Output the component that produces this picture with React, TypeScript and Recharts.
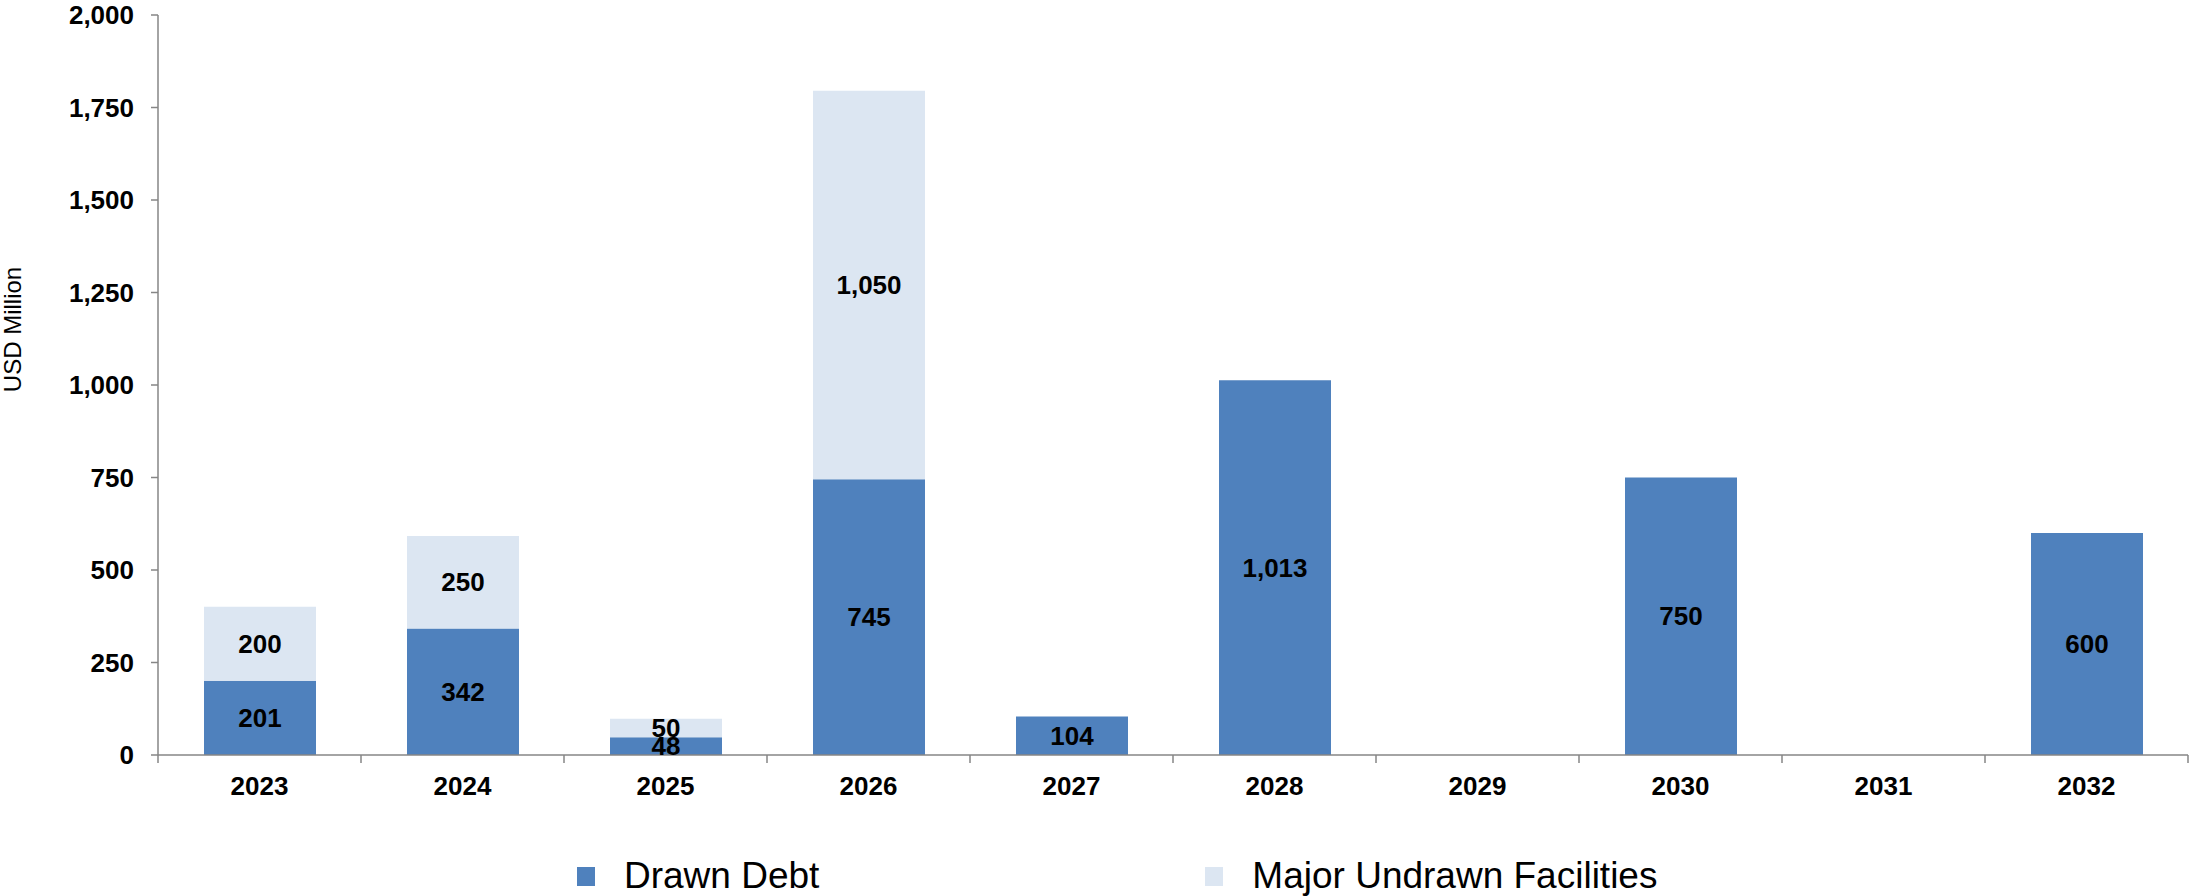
import React from 'react';
import { BarChart, Bar, XAxis, YAxis, Legend, LabelList } from 'recharts';

const years = ['2023', '2024', '2025', '2026', '2027', '2028', '2029', '2030', '2031', '2032'];
const drawnDebt = [201, 342, 48, 745, 104, 1013, 0, 750, 0, 600];
const undrawnFacilities = [200, 250, 50, 1050, 0, 0, 0, 0, 0, 0];
const yTicks = [0, 250, 500, 750, 1000, 1250, 1500, 1750, 2000];

const DRAWN = '#4F81BD';
const UNDRAWN = '#DCE6F2';
const AXIS = '#868686';
const FONT = '"Liberation Sans", Arial, sans-serif';

const data = years.map((year, i) => ({
  year,
  drawn: drawnDebt[i],
  undrawn: undrawnFacilities[i],
}));

const fmt = (v: any) => (v ? Number(v).toLocaleString('en-US') : '');

// category ticks sit between the bars, labels in the middle
function XTick(props: any) {
  const { x, y, payload, index } = props;
  const off = payload && payload.offset ? payload.offset : 101.5;
  return (
    <g>
      <line x1={x - off} y1={y} x2={x - off} y2={y + 8} stroke={AXIS} strokeWidth={1.5} />
      {index === years.length - 1 && (
        <line x1={x + off} y1={y} x2={x + off} y2={y + 8} stroke={AXIS} strokeWidth={1.5} />
      )}
      <text x={x} y={y + 40} textAnchor="middle" fontSize={26} fontWeight="bold" fill="#000" fontFamily={FONT}>
        {payload.value}
      </text>
    </g>
  );
}

function LegendContent() {
  const items = [
    { name: 'Drawn Debt', color: DRAWN },
    { name: 'Major Undrawn Facilities', color: UNDRAWN },
  ];
  return (
    <div style={{ height: 40, display: 'flex', alignItems: 'center', paddingLeft: 577, fontFamily: FONT }}>
      {items.map((it, i) => (
        <div key={it.name} style={{ display: 'flex', alignItems: 'center', marginRight: i === 0 ? 386 : 0 }}>
          <span style={{ width: 18, height: 19, background: it.color, display: 'inline-block', marginRight: 29 }} />
          <span style={{ fontSize: 37, color: '#000', lineHeight: '40px' }}>{it.name}</span>
        </div>
      ))}
    </div>
  );
}

export default function App() {
  return (
    <div style={{ position: 'absolute', left: 0, top: 0, background: '#fff', fontFamily: FONT }}>
      <BarChart
        width={2189}
        height={896}
        data={data}
        margin={{ top: 15, right: 1, left: 0, bottom: 0 }}
        barSize={112}
      >
        <XAxis
          dataKey="year"
          height={101}
          tickSize={0}
          tickMargin={0}
          tickLine={false}
          axisLine={{ stroke: AXIS, strokeWidth: 1.5 }}
          tick={<XTick />}
          interval={0}
        />
        <YAxis
          width={158}
          domain={[0, 2000]}
          ticks={yTicks}
          interval={0}
          tickSize={7}
          tickMargin={17}
          tickFormatter={(v: number) => v.toLocaleString('en-US')}
          tick={{ fontSize: 26, fontWeight: 'bold', fill: '#000', fontFamily: FONT }}
          tickLine={{ stroke: AXIS, strokeWidth: 1.5 }}
          axisLine={{ stroke: AXIS, strokeWidth: 1.5 }}
          label={{
            content: (p: any) => {
              const vb = p.viewBox || { x: 0, y: 15, height: 740 };
              const cx = vb.x + 21;
              const cy = vb.y + vb.height * 0.425;
              return (
                <text
                  x={cx}
                  y={cy}
                  transform={`rotate(-90, ${cx}, ${cy})`}
                  textAnchor="middle"
                  fontSize={24}
                  fill="#000"
                  fontFamily={FONT}
                >
                  USD Million
                </text>
              );
            },
          }}
        />
        <Legend verticalAlign="bottom" content={<LegendContent />} wrapperStyle={{ left: 0, width: 2189 }} />
        <Bar dataKey="drawn" name="Drawn Debt" stackId="a" fill={DRAWN} isAnimationActive={false}>
          <LabelList dataKey="drawn" position="center" formatter={fmt} fontSize={26} fontWeight="bold" fill="#000" fontFamily={FONT} />
        </Bar>
        <Bar dataKey="undrawn" name="Major Undrawn Facilities" stackId="a" fill={UNDRAWN} isAnimationActive={false}>
          <LabelList dataKey="undrawn" position="center" formatter={fmt} fontSize={26} fontWeight="bold" fill="#000" fontFamily={FONT} />
        </Bar>
      </BarChart>
    </div>
  );
}
